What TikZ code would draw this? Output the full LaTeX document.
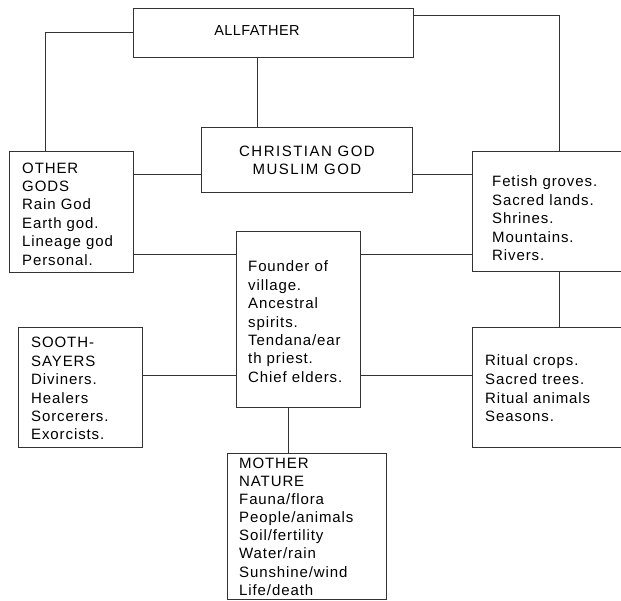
\documentclass[tikz,border=0pt]{standalone}
\usepackage{fontspec}
\setmainfont{Liberation Sans}[LetterSpace=6]
\begin{document}
\begin{tikzpicture}[x=1pt,y=-1pt,
  box/.style={draw=black!80, line width=0.8pt, inner sep=0pt, anchor=north west},
  txt/.style={anchor=north west, inner sep=0pt, align=left, font=\fontsize{15}{18.4}\selectfont},
  link/.style={draw=black!80, line width=0.8pt}]
\useasboundingbox (0,0) rectangle (621,600);
\clip (0,0) rectangle (621,600);
% boxes
\node[box, minimum width=280pt, minimum height=49pt] (all) at (133,8) {};
\node[box, minimum width=211pt, minimum height=65pt] (cm) at (201,127) {};
\node[box, minimum width=124pt, minimum height=121pt] (og) at (9,151) {};
\node[box, minimum width=170pt, minimum height=120pt] (fe) at (472,151) {};
\node[box, minimum width=124pt, minimum height=176pt] (fo) at (236,231) {};
\node[box, minimum width=170pt, minimum height=120pt] (ri) at (472,327) {};
\node[box, minimum width=124pt, minimum height=120pt] (so) at (18,327) {};
\node[box, minimum width=159pt, minimum height=146pt] (mn) at (227,453) {};
% texts
\node[anchor=base, inner sep=0pt, font=\fontsize{14.5}{18.4}\selectfont\addfontfeature{LetterSpace=3}] (tall) at (257,35) {ALLFATHER};
\node[txt, anchor=north, align=center, font=\fontsize{15}{18.8}\selectfont\addfontfeature{LetterSpace=10}] (tcm) at (307,142.8) {\strut CHRISTIAN GOD\\MUSLIM GOD};
\node[txt] (tog) at (22,160.1) {\strut OTHER\\GODS\\Rain God\\Earth god.\\Lineage god\\Personal.};
\node[txt] (tfe) at (492,173.8) {\strut Fetish groves.\\Sacred lands.\\Shrines.\\Mountains.\\Rivers.};
\node[txt] (tfo) at (248,258.8) {\strut Founder of\\village.\\Ancestral\\spirits.\\Tendana/ear\\th priest.\\Chief elders.};
\node[txt, font=\fontsize{15}{18.7}\selectfont] (tri) at (485,352.6) {\strut Ritual crops.\\Sacred trees.\\Ritual animals\\Seasons.};
\node[txt] (tso) at (31,334.8) {\strut SOOTH-\\SAYERS\\Diviners.\\Healers\\Sorcerers.\\Exorcists.};
\node[txt, font=\fontsize{15}{18.1}\selectfont] (tmn) at (239,455.6) {\strut MOTHER\\NATURE\\Fauna/flora\\People/animals\\Soil/fertility\\Water/rain\\Sunshine/wind\\Life/death};
% connectors
\draw[link] (all.west |- 0,32) -| (og.north -| 45,0);
\draw[link] (all.east |- 0,15) -| (fe.north -| 559,0);
\draw[link] (all.south -| 257,0) -- (cm.north -| 257,0);
\draw[link] (og.east |- 0,174) -- (cm.west |- 0,174);
\draw[link] (cm.east |- 0,174) -- (fe.west |- 0,174);
\draw[link] (og.east |- 0,254) -- (fo.west |- 0,254);
\draw[link] (fo.east |- 0,254) -- (fe.west |- 0,254);
\draw[link] (fe.south -| 559,0) -- (ri.north -| 559,0);
\draw[link] (so.east |- 0,375) -- (fo.west |- 0,375);
\draw[link] (fo.east |- 0,375) -- (ri.west |- 0,375);
\draw[link] (fo.south -| 288,0) -- (mn.north -| 288,0);
\end{tikzpicture}
\end{document}
